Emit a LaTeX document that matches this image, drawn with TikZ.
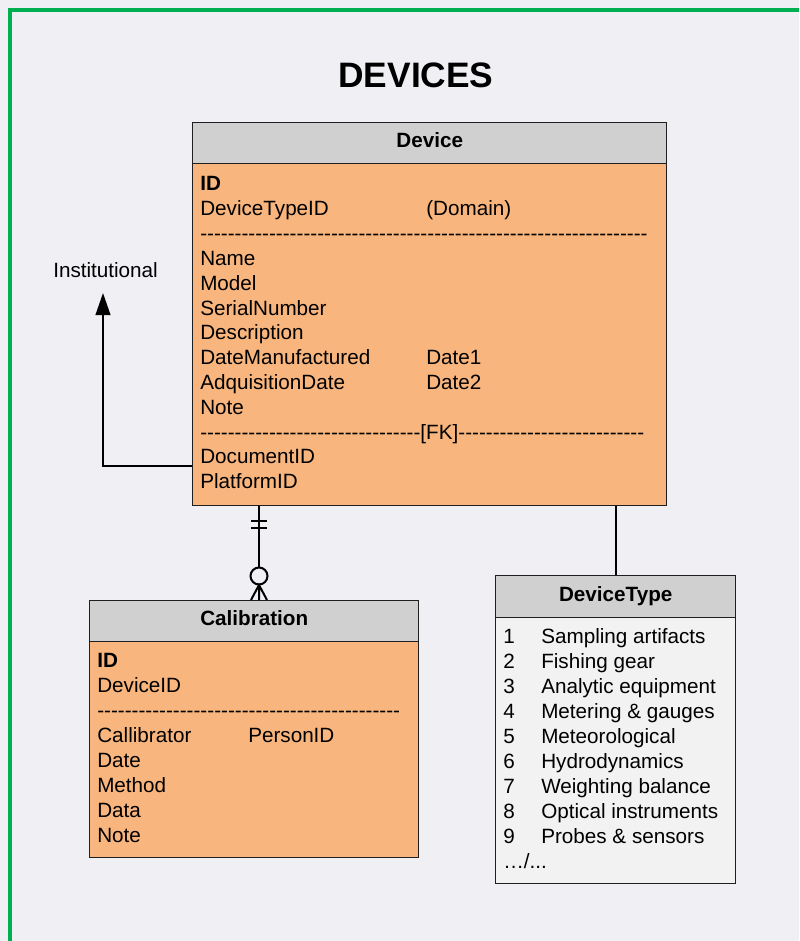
\documentclass[tikz,border=0pt]{standalone}
\usepackage{fontspec}
\setmainfont[Ligatures=TeXOff]{Liberation Sans}
\usetikzlibrary{arrows.meta}
\definecolor{bggrey}{RGB}{240,239,244}
\definecolor{framegreen}{RGB}{0,176,80}
\definecolor{headgrey}{RGB}{208,208,208}
\definecolor{bodyorange}{RGB}{248,181,125}
\definecolor{listgrey}{RGB}{242,242,242}
\newcommand{\dashes}[1]{\foreach\k in {1,...,#1}{-}}
\begin{document}
\begin{tikzpicture}[x=0.75pt,y=-0.75pt,
  every node/.style={font=\fontsize{15.5}{18}\selectfont},
  tabhead/.style={draw=black!88,line width=1.1pt,fill=headgrey,anchor=north west,inner sep=0pt,
    text height=0.75em,text depth=0.08em,font=\fontsize{15.5}{18}\selectfont\bfseries},
  tabbody/.style={draw=black!88,line width=1.1pt,anchor=north west,inner sep=0pt},
  row/.style={anchor=base west,inner sep=0pt},
  link/.style={line width=1.5pt}]
\useasboundingbox (0,0) rectangle (799,941);
\clip (0,0) rectangle (799,941);
\fill[bggrey] (0,0) rectangle (799,941);
\draw[framegreen,line width=3pt] (10,10) rectangle (830,970);
\node[anchor=base,font=\fontsize{26.5}{30}\selectfont\bfseries] (title) at (416,88) {DEVICES};

% tables
\node[tabbody,fill=bodyorange,minimum width=355.5pt,minimum height=256.5pt] (dev-body) at (192,163) {};
\node[tabhead,minimum width=355.5pt,minimum height=30.75pt] (dev-head) at (192,122) {Device};
\node[tabbody,fill=bodyorange,minimum width=246.75pt,minimum height=162pt] (cal-body) at (89,641) {};
\node[tabhead,minimum width=246.75pt,minimum height=30.75pt] (cal-head) at (89,600) {Calibration};
\node[tabbody,fill=listgrey,minimum width=180pt,minimum height=199.5pt] (dt-body) at (495,617) {};
\node[tabhead,minimum width=180pt,minimum height=31.5pt] (dt-head) at (495,575) {DeviceType};

\foreach \txt [count=\i] in {{\bfseries ID}, DeviceTypeID, \dashes{65}, Name, Model, SerialNumber,
    Description, DateManufactured, AdquisitionDate, Note, \dashes{32}[FK]\dashes{27}, DocumentID, PlatformID}
  \node[row] (dev-\i) at (200,{191+24.8*(\i-1)}) {\txt};
\node[row] (dev-domain) at (426,215.8) {(Domain)};
\node[row] (dev-date1) at (426,364.6) {Date1};
\node[row] (dev-date2) at (426,389.4) {Date2};

\foreach \txt [count=\i] in {{\bfseries ID}, DeviceID, \dashes{44}, Callibrator, Date, Method, Data, Note}
  \node[row] (cal-\i) at (97,{667.5+25*(\i-1)}) {\txt};
\node[row] (cal-person) at (248,742.5) {PersonID};

\foreach \txt [count=\i] in {Sampling artifacts, Fishing gear, Analytic equipment, Metering \& gauges,
    Meteorological, Hydrodynamics, Weighting balance, Optical instruments, Probes \& sensors} {
  \node[row] (dt-n\i) at (503,{643.3+25*(\i-1)}) {\i};
  \node[row] (dt-\i) at (541,{643.3+25*(\i-1)}) {\txt};
}
\node[row] (dt-more) at (503,868) {…/...};

% links
\node[row] (inst) at (53,277) {Institutional};
\coordinate (inst-end) at (103,293);
\coordinate (dev-fk) at (192,466);
\draw[link,-{Triangle[length=16.5pt,width=11pt]}] (dev-fk) -| (inst-end);

\coordinate (cal-top) at (259,600);
\draw[link] (cal-top |- dev-body.south) -- (cal-top);
\draw[link] (251,521) -- (267,521) (251,528) -- (267,528);
\draw[link,fill=bggrey] (259,576) circle[radius=8.5];
\draw[link] (251,600) -- (259,585) -- (267,600) (259,585) -- (259,600);

\draw[link] (dt-head.north) -- (dt-head.north |- dev-body.south);
\end{tikzpicture}
\end{document}
